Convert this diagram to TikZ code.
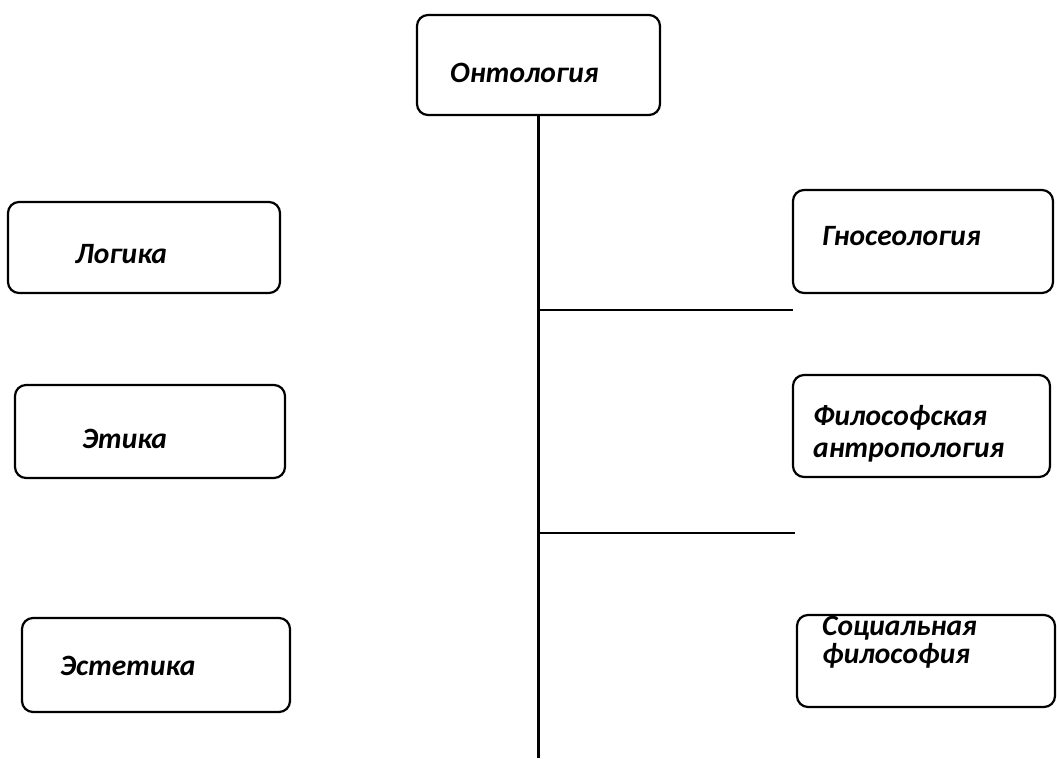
\documentclass[tikz,border=0pt]{standalone}
\usepackage{fontspec}
\setmainfont{Carlito}
\tikzset{
  box/.style={draw=black, line width=2.2pt, rounded corners=11pt, fill=white, inner sep=0pt},
  lbl/.style={anchor=base west, inner sep=0pt, font=\fontsize{29.5}{30}\selectfont\bfseries\itshape, align=left},
  conn/.style={draw=black, line width=2.2pt}
}
\begin{document}
\begin{tikzpicture}[x=1pt,y=-1pt]
\useasboundingbox (0,0) rectangle (1057,758);
% boxes
\node[box, minimum width=243pt, minimum height=100pt] (onto) at (538.5,65) {};
\node[box, minimum width=272pt, minimum height=91pt] (logika) at (144,247.5) {};
\node[box, minimum width=270pt, minimum height=93pt] (etika) at (150,431.5) {};
\node[box, minimum width=268pt, minimum height=94pt] (estetika) at (156,665) {};
\node[box, minimum width=260pt, minimum height=103pt] (gnos) at (923,241.5) {};
\node[box, minimum width=257pt, minimum height=102pt] (filos) at (921.5,426) {};
\node[box, minimum width=258pt, minimum height=92pt] (social) at (926,661) {};
% labels
\node[lbl] (tonto) at (450,82) {Онтология};
\node[lbl] (tlogika) at (75,263) {Логика};
\node[lbl] (tetika) at (82,448) {Этика};
\node[lbl] (testetika) at (60,675) {Эстетика};
\node[lbl] (tgnos) at (822,245) {Гносеология};
\node[lbl] (tfilos1) at (813,425) {Философская};
\node[lbl] (tfilos2) at (813,457) {антропология};
\node[lbl] (tsocial1) at (822,635) {Социальная};
\node[lbl] (tsocial2) at (822,663) {философия};
% connectors
\coordinate (bottom) at (538.5,758);
\coordinate (j1) at (538.5,310);
\coordinate (j2) at (538.5,533);
\coordinate (e1) at (793,310);
\coordinate (e2) at (795,533);
\draw[conn] (onto.south) -- (bottom);
\draw[conn] (j1) -- (e1);
\draw[conn] (j2) -- (e2);
\end{tikzpicture}
\end{document}
